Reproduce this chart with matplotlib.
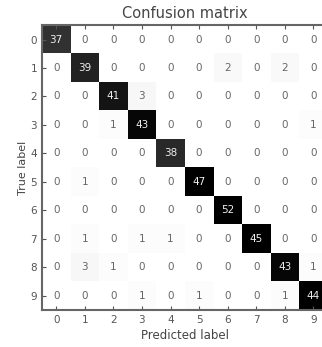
import numpy as np
import matplotlib
matplotlib.use("Agg")
import matplotlib.pyplot as plt

labels = ["0", "1", "2", "3", "4", "5", "6", "7", "8", "9"]
cm = np.array([
    [37, 0, 0, 0, 0, 0, 0, 0, 0, 0],
    [0, 39, 0, 0, 0, 0, 2, 0, 2, 0],
    [0, 0, 41, 3, 0, 0, 0, 0, 0, 0],
    [0, 0, 1, 43, 0, 0, 0, 0, 0, 1],
    [0, 0, 0, 0, 38, 0, 0, 0, 0, 0],
    [0, 1, 0, 0, 0, 47, 0, 0, 0, 0],
    [0, 0, 0, 0, 0, 0, 52, 0, 0, 0],
    [0, 1, 0, 1, 1, 0, 0, 45, 0, 0],
    [0, 3, 1, 0, 0, 0, 0, 0, 43, 1],
    [0, 0, 0, 1, 0, 1, 0, 0, 1, 44],
])

fig = plt.figure(figsize=(3.22, 3.47), dpi=100)
ax = fig.add_axes([0.13, 0.107, 0.888, 0.82])
ax.imshow(cm, cmap="Greys", vmin=0, vmax=cm.max() * 0.85, aspect="auto",
          interpolation="nearest")

thresh = cm.max() / 2.0
for i in range(cm.shape[0]):
    for j in range(cm.shape[1]):
        ax.text(j, i, str(cm[i, j]), ha="center", va="center", fontsize=7.5,
                color="#eeeeee" if cm[i, j] > thresh else "#666666")

ax.set_xticks(range(len(labels)))
ax.set_xticklabels(labels)
ax.set_yticks(range(len(labels)))
ax.set_yticklabels(labels)
ax.tick_params(direction="in", length=3, labelsize=7.5, colors="#555555",
               top=True, right=True)
ax.set_xlabel("Predicted label", fontsize=8.5, color="#444444", labelpad=3)
ax.set_ylabel("True label", fontsize=8, color="#444444", labelpad=2)
ax.set_title("Confusion matrix", fontsize=10.5, color="#444444", pad=5)
for s in ax.spines.values():
    s.set_linewidth(1.5)
    s.set_color("#666666")

fig.savefig("out.png", dpi=100)
